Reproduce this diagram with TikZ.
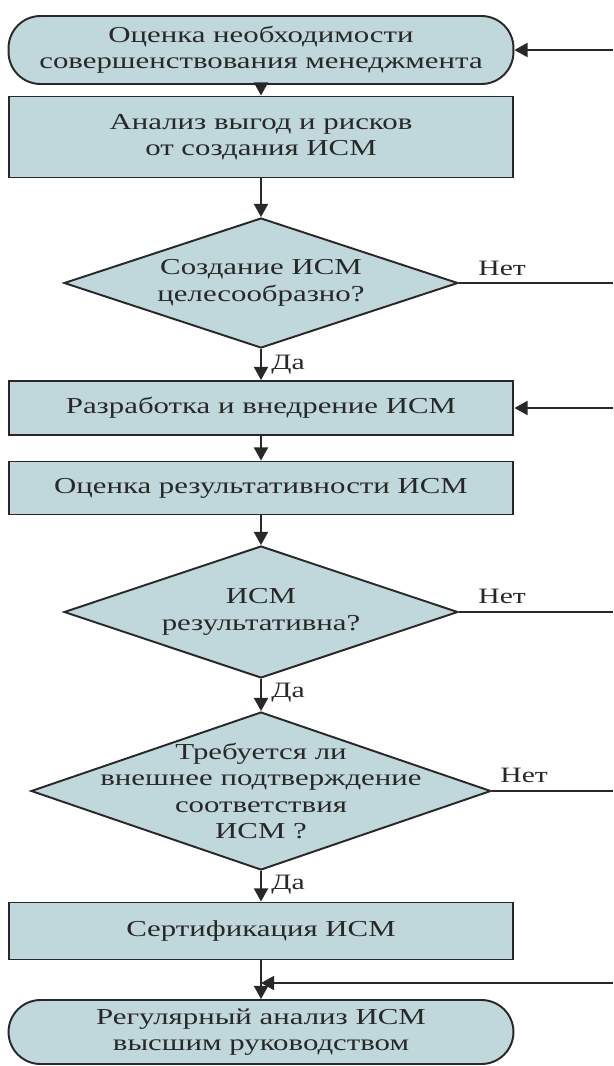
\documentclass[tikz,border=0pt]{standalone}
\usepackage{fontspec}
\setmainfont{Liberation Serif}[FakeStretch=1.35]
\usetikzlibrary{arrows.meta,shapes.geometric}
\definecolor{boxfill}{RGB}{192,216,219}
\definecolor{ink}{RGB}{40,40,40}
\begin{document}
\begin{tikzpicture}[x=0.02cm,y=-0.02cm,
  every node/.style={text=ink},
  txt/.style={font=\fontsize{13}{15}\selectfont, align=center},
  base/.style={draw=ink, line width=1.1pt, fill=boxfill, inner sep=0pt, txt},
  procbox/.style={base, rectangle, minimum width=10.1cm, minimum height=#1},
  termbox/.style={base, rectangle, rounded corners=0.64cm, minimum width=10.1cm, minimum height=#1},
  decbox/.style={base, diamond},
  flow/.style={draw=ink, line width=1.1pt, -{Triangle[length=7.5pt,width=8pt]}},
  link/.style={draw=ink, line width=1.1pt},
  lbl/.style={font=\fontsize{12.5}{14}\selectfont, inner sep=0pt}
]
\useasboundingbox (0,0) rectangle (613,1066);

% blocks of the main column
\node[termbox=1.36cm] (t1) at (261,50) {Оценка необходимости\\совершенствования менеджмента};
\node[procbox=1.62cm] (b2) at (261,137) {Анализ выгод и рисков\\от создания ИСМ};
\node[decbox, minimum width=7.88cm, minimum height=2.6cm,
      label={[txt]center:Создание ИСМ\\целесообразно?}] (d1) at (261,283) {};
\node[procbox=1.08cm] (b3) at (261,408) {Разработка и внедрение ИСМ};
\node[procbox=1.06cm] (b4) at (261,488) {Оценка результативности ИСМ};
\node[decbox, minimum width=7.88cm, minimum height=2.64cm,
      label={[txt]center:ИСМ\\результативна?}] (d2) at (261,612) {};
\node[decbox, minimum width=9.2cm, minimum height=3.16cm,
      label={[txt]center:Требуется ли\\внешнее подтверждение\\соответствия\\ИСМ ?}] (d3) at (261,791) {};
\node[procbox=1.14cm] (b5) at (261,931) {Сертификация ИСМ};
\node[termbox=1.28cm] (t2) at (261,1032) {Регулярный анализ ИСМ\\высшим руководством};

% loose ends on the right margin and the merge point
\coordinate (r1) at (613,50);
\coordinate (r2) at (613,283);
\coordinate (r3) at (613,408);
\coordinate (r4) at (613,612);
\coordinate (r5) at (613,791);
\coordinate (r6) at (613,983);
\coordinate (j) at (261,983);

% main flow
\draw[flow] (t1) -- (b2);
\draw[flow] (b2) -- (d1);
\draw[flow] (d1) -- (b3);
\draw[flow] (b3) -- (b4);
\draw[flow] (b4) -- (d2);
\draw[flow] (d2) -- (d3);
\draw[flow] (d3) -- (b5);
\draw[link] (b5) -- (j);
\draw[flow] (j) -- (t2);

% return lines
\draw[flow] (r1) -- (t1.east);
\draw[flow] (r3) -- (b3.east);
\draw[flow] (r6) -- (j);
\draw[link] (d1.east) -- (r2);
\draw[link] (d2.east) -- (r4);
\draw[link] (d3.east) -- (r5);

% branch labels
\node[lbl, anchor=base west] (n1) at (478,275) {Нет};
\node[lbl, anchor=base west] (n2) at (478,603) {Нет};
\node[lbl, anchor=base west] (n3) at (500,782) {Нет};
\node[lbl, anchor=base west] (y1) at (271,369) {Да};
\node[lbl, anchor=base west] (y2) at (271,697) {Да};
\node[lbl, anchor=base west] (y3) at (271,889) {Да};
\end{tikzpicture}
\end{document}
